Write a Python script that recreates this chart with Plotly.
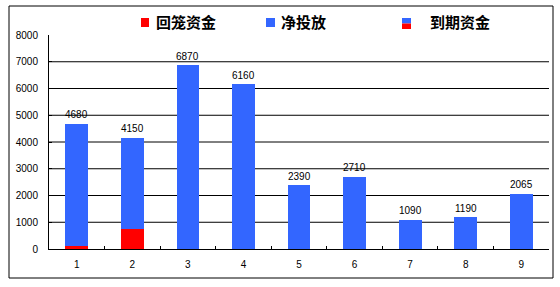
import plotly.graph_objects as go

categories = ["1", "2", "3", "4", "5", "6", "7", "8", "9"]
totals = [4680, 4150, 6870, 6160, 2390, 2710, 1090, 1190, 2065]
recalled = [110, 750, 0, 0, 0, 0, 0, 0, 0]
net_injection = [t - r for t, r in zip(totals, recalled)]
y_ticks = [0, 1000, 2000, 3000, 4000, 5000, 6000, 7000, 8000]
grid_vals = [1000, 2000, 3000, 4000, 5000, 6000, 7000]

RED = "#FF0000"
BLUE = "#3366FF"
W, H = 560, 287
L, R, T, B = 49, 11, 35, 38
PW, PH = W - L - R, H - T - B

def px(x):
    return (x - L) / PW

def py(y):
    return (H - B - y) / PH

num_font = dict(family="Liberation Sans, Arial, sans-serif", size=10, color="black")

fig = go.Figure()
fig.add_trace(go.Bar(x=categories, y=recalled, marker_color=RED, name="回笼资金",
                     marker_line_width=0))
fig.add_trace(go.Bar(x=categories, y=net_injection, marker_color=BLUE, name="净投放",
                     marker_line_width=0))

shapes = []
for g in grid_vals:
    shapes.append(dict(type="line", xref="paper", yref="y", x0=0, x1=1, y0=g, y1=g,
                       line=dict(color="black", width=1), layer="below"))
# outer border
shapes.append(dict(type="rect", xref="paper", yref="paper", x0=px(9), x1=px(553),
                   y0=py(278), y1=py(6), line=dict(color="black", width=1)))
# legend markers
shapes.append(dict(type="rect", xref="paper", yref="paper", x0=px(141), x1=px(149),
                   y0=py(27), y1=py(18), fillcolor=RED, line_width=0))
shapes.append(dict(type="rect", xref="paper", yref="paper", x0=px(266), x1=px(275),
                   y0=py(27), y1=py(18), fillcolor=BLUE, line_width=0))
shapes.append(dict(type="rect", xref="paper", yref="paper", x0=px(402), x1=px(411),
                   y0=py(23.5), y1=py(18), fillcolor=BLUE, line_width=0))
shapes.append(dict(type="rect", xref="paper", yref="paper", x0=px(402), x1=px(411),
                   y0=py(29), y1=py(23.5), fillcolor=RED, line_width=0))

leg_font = dict(family="Noto Sans CJK SC", size=15, color="black")
annotations = []
for text, x in [("<b>回笼资金</b>", 154), ("<b>净投放</b>", 279), ("<b>到期资金</b>", 428)]:
    annotations.append(dict(text=text, xref="paper", yref="paper", x=px(x), y=py(22),
                            xanchor="left", yanchor="middle", showarrow=False, font=leg_font))
for i, t in enumerate(totals):
    annotations.append(dict(text=str(t), x=i, y=t, xref="x", yref="y", yshift=9,
                            xanchor="center", yanchor="middle", showarrow=False,
                            font=num_font))

fig.update_layout(
    width=W, height=H,
    margin=dict(l=L, r=R, t=T, b=B),
    paper_bgcolor="white", plot_bgcolor="white",
    barmode="stack", bargap=0.59,
    showlegend=False,
    shapes=shapes, annotations=annotations,
    xaxis=dict(type="category", range=[-0.5, len(categories) - 0.5], showline=True,
               linecolor="black", linewidth=1,
               ticks="inside", tickson="boundaries", ticklen=3, tickcolor="black",
               showgrid=False, tickfont=num_font, ticklabelstandoff=6),
    yaxis=dict(range=[0, 8000], tickvals=y_ticks, showline=True, linecolor="black",
               linewidth=1, ticks="inside", ticklen=3, tickcolor="black",
               showgrid=False, zeroline=False, tickfont=num_font, ticklabelstandoff=8),
)

fig.write_html("out.html")
